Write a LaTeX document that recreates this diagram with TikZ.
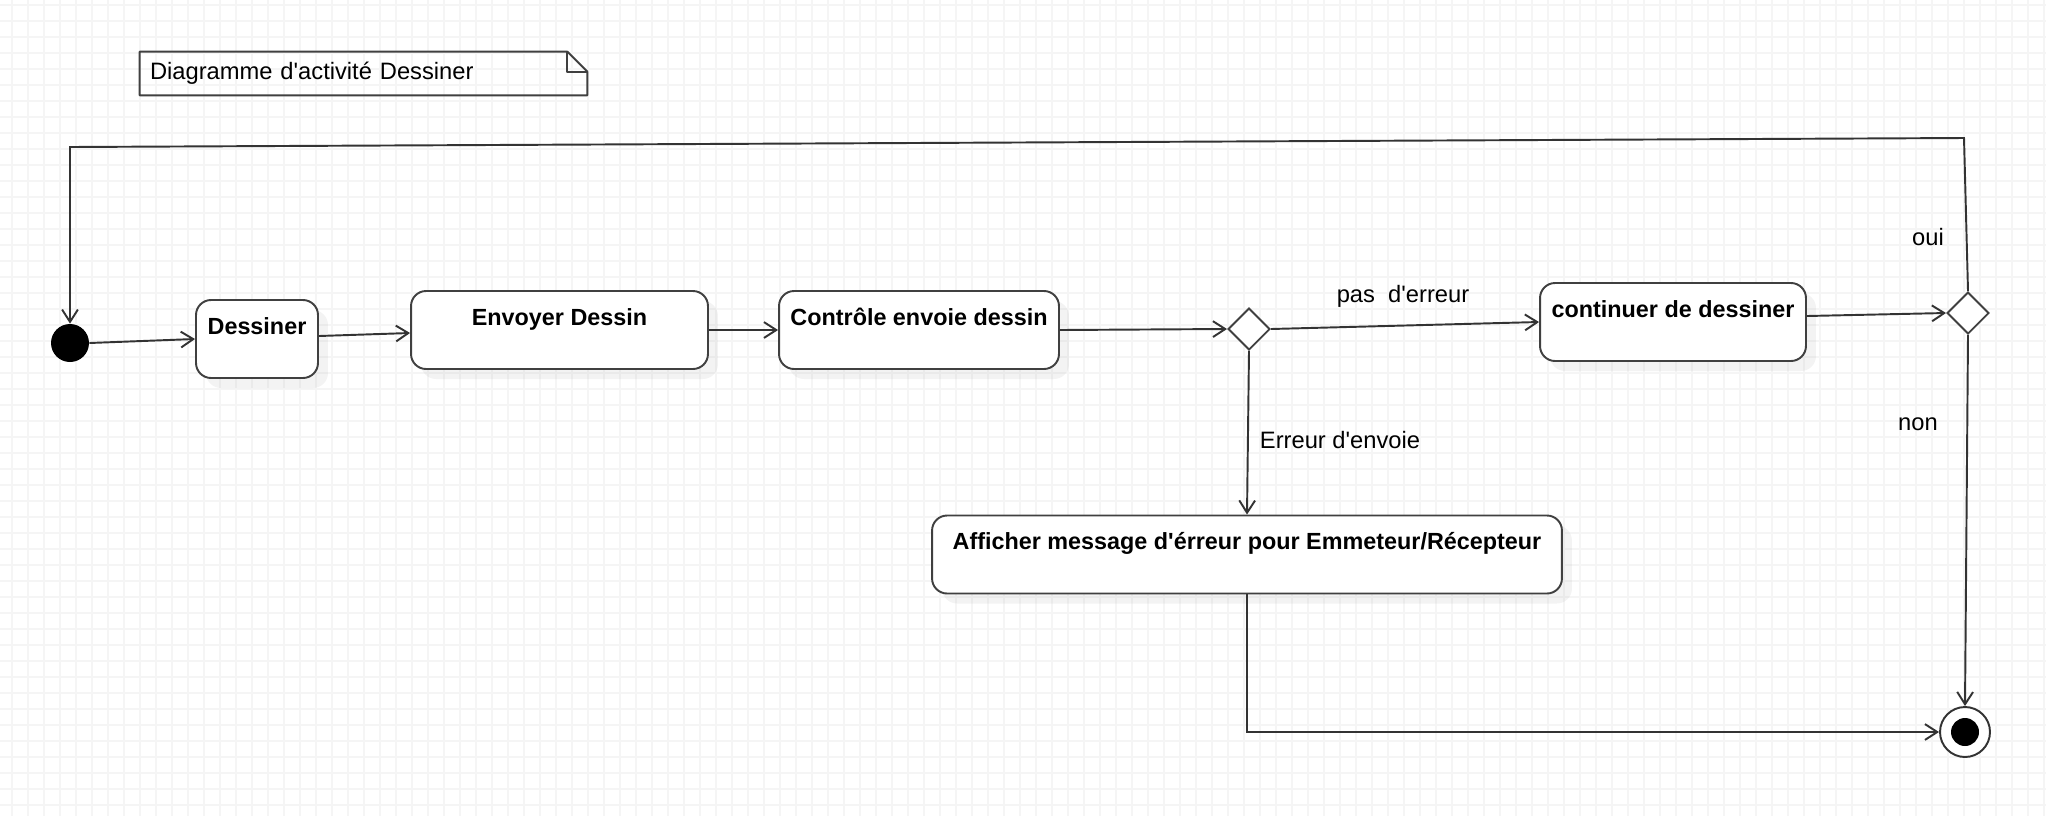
\documentclass[tikz,border=0pt]{standalone}
\usepackage{fontspec}
\setmainfont{Liberation Sans}[Ligatures=TeXOff]
\usetikzlibrary{arrows.meta,shapes.geometric,shadows}

\begin{document}
\begin{tikzpicture}[
  x=0.02cm, y=-0.02cm,
  every node/.style={font=\fontsize{13.5}{16}\selectfont},
  act/.style={draw=black!75, line width=1.1pt, fill=white, rounded corners=0.3cm,
    font=\fontsize{13.3}{16}\selectfont\bfseries, inner xsep=0.1cm, inner ysep=0pt,
    text height=0.68cm, text depth=0.88cm,
    drop shadow={opacity=0.09, shadow xshift=0.2cm, shadow yshift=-0.2cm}},
  decision/.style={diamond, draw=black!75, line width=1.1pt, fill=white,
    minimum width=0.84cm, minimum height=0.84cm, inner sep=0pt},
  flow/.style={draw=black!80, line width=1.1pt, -{Straight Barb[length=7pt,width=9pt]}},
  gridline/.style={draw=black!4, line width=0.04cm},
  noteline/.style={draw=black!75, line width=1.1pt, line join=round},
]
% background and grid (16 px)
\useasboundingbox (0,0) rectangle (2046,816);
\fill[white] (0,0) rectangle (2046,816);
\foreach \gx in {12,28,...,2046} \draw[gridline] (\gx,0) -- (\gx,816);
\foreach \gy in {5,21,...,816} \draw[gridline] (0,\gy) -- (2046,\gy);

% Note
\node[text width=8.54cm, inner xsep=0.2cm, minimum height=0.86cm, align=left] (note) at (363.5,73.5)
  {Diagramme d'activité Dessiner};
\draw[noteline] (note.north west) -- ([xshift=-0.4cm]note.north east)
  -- ([yshift=-0.4cm]note.north east) -- (note.south east) -- (note.south west) -- cycle;
\draw[noteline] ([xshift=-0.4cm]note.north east) -- ([xshift=-0.4cm,yshift=-0.4cm]note.north east)
  -- ([yshift=-0.4cm]note.north east);

% Start / end
\node[circle, fill=black, minimum size=0.76cm, inner sep=0pt] (init) at (70,343) {};
\node[circle, draw=black!80, line width=1.1pt, fill=white, minimum size=1.0cm, inner sep=0pt,
  path picture={\fill[black] (path picture bounding box.center) circle (0.28cm);}] (fin) at (1965,732) {};

% Activities
\node[act, minimum width=2.44cm] (dessiner) at (257,339) {Dessiner};
\node[act, minimum width=5.94cm] (envoyer) at (559.5,330) {Envoyer Dessin};
\node[act, minimum width=5.6cm] (controle) at (919,330) {Contrôle envoie dessin};
\node[act, minimum width=5.32cm] (continuer) at (1673,322) {continuer de dessiner};
\node[act, minimum width=12.6cm] (afficher) at (1247,554.5)
  {Afficher message d'érreur pour Emmeteur/Récepteur};

% Decisions
\node[decision] (dec1) at (1249,329) {};
\node[decision] (dec2) at (1968,313) {};

% Guards
\node (lblpas) at (1403,296) {pas\ \ d'erreur};
\node (lblerr) at (1340,440) {Erreur d'envoie};
\node (lbloui) at (1928,237) {oui};
\node (lblnon) at (1918,424) {non};

% Flows
\draw[flow] (init.east) -- (dessiner.west);
\draw[flow] ([yshift=0.06cm]dessiner.east) -- ([yshift=-0.06cm]envoyer.west);
\draw[flow] (envoyer.east) -- (controle.west);
\draw[flow] (controle.east) -- (dec1.west);
\draw[flow] (dec1.east) -- (continuer.west);
\draw[flow] ([yshift=0.12cm]continuer.east) -- (dec2.west);
\draw[flow] (dec1.south) -- (afficher.north);
\draw[flow] (afficher.south) |- (fin.west);
\draw[flow] (dec2.south) -- (fin.north);
\coordinate (topright) at (1964,138);
\coordinate (topleft) at (70,147);
\draw[flow] (dec2.north) -- (topright) -- (topleft) -- (init.north);
\end{tikzpicture}
\end{document}
